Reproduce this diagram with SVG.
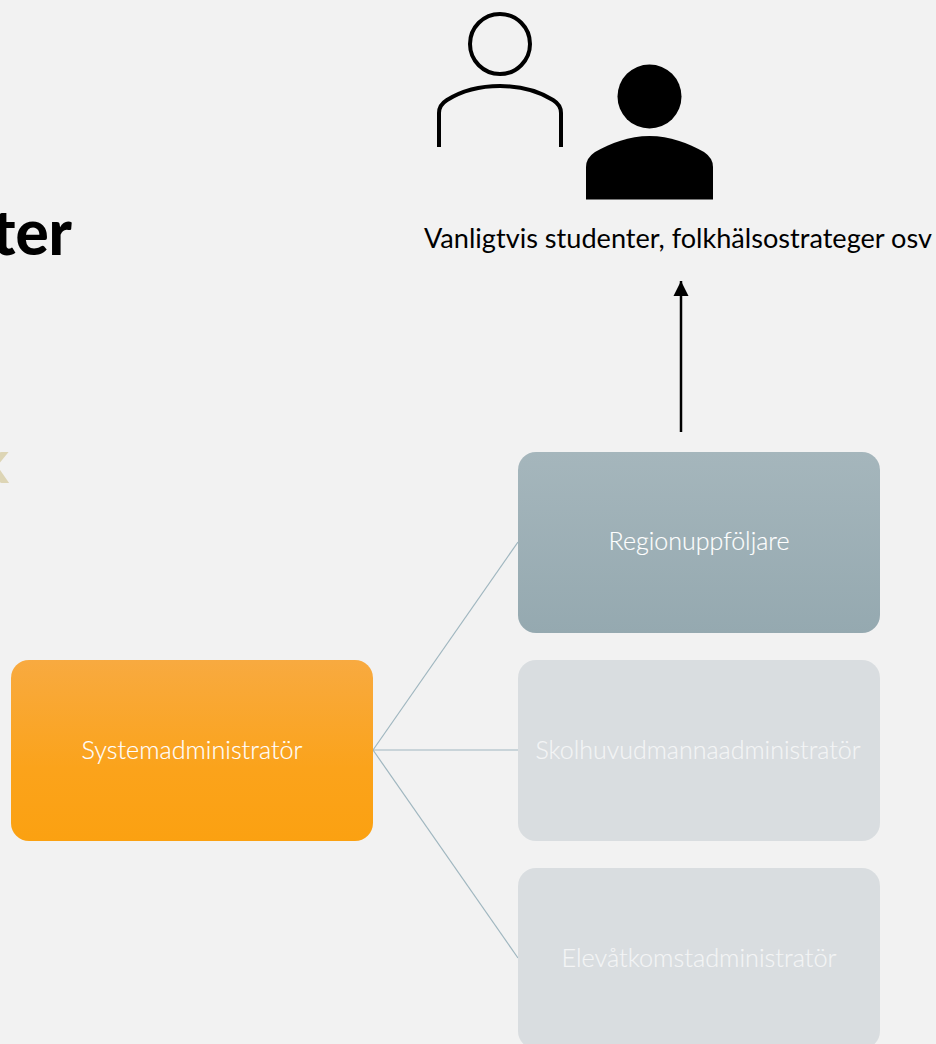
<svg xmlns="http://www.w3.org/2000/svg" width="936" height="1044" viewBox="0 0 936 1044">
<style>
.l{font-family:"Lato","Noto Sans",sans-serif;font-size:25px;font-weight:300;text-anchor:middle;fill:#fff;stroke:#fff;stroke-width:0.15}
.m{fill:#f4f5f6;stroke:#f4f5f6}
.c{stroke:#9fb6bf;stroke-width:1.2;fill:none}
</style>
<defs>
<linearGradient id="o" x1="0" y1="0" x2="0" y2="1"><stop offset="0" stop-color="#f8aa40"/><stop offset="0.6" stop-color="#fba31b"/><stop offset="1" stop-color="#fba111"/></linearGradient>
<linearGradient id="b" x1="0" y1="0" x2="0" y2="1"><stop offset="0" stop-color="#a5b6bc"/><stop offset="1" stop-color="#95a9b0"/></linearGradient>
<marker id="a" markerUnits="userSpaceOnUse" markerWidth="15" markerHeight="16" refX="15" refY="8" orient="auto"><path d="M0 0.500L15 8L0 15.500Z" fill="#000"/></marker>
</defs>
<rect width="936" height="1044" fill="#f2f2f2"/>
<g id="heading"><text x="72" y="255" font-family="Lato,sans-serif" font-weight="900" font-size="62" text-anchor="end" fill="#000">ter</text></g>
<g id="fragment"><text x="9" y="483" font-family="Lato,sans-serif" font-weight="700" font-size="60" text-anchor="end" fill="#ddd5b5">k</text></g>
<g id="connectors">
<path class="c" d="M373 750L518 542"/>
<path class="c" d="M373 750H518"/>
<path class="c" d="M373 750L518 958"/>
<path d="M681 432V281" stroke="#000" stroke-width="2.500" fill="none" marker-end="url(#a)"/>
</g>
<g id="user-outline" fill="none" stroke="#000" stroke-width="4">
<circle cx="500" cy="44" r="30"/>
<path d="M439 147V113Q439 105 447 100C463 90 480 86 500 86C520 86 537 90 553 100Q561 105 561 113V147"/>
</g>
<g id="user-solid">
<circle cx="649.500" cy="96.500" r="32"/>
<path d="M586 199.500V167Q586 158 595 152C611 143 629 136 649.500 136C670 136 688 143 704 152Q713 158 713 167V199.500Z"/>
</g>
<g id="caption"><text x="678" y="248" font-family="Lato,sans-serif" font-size="27" text-anchor="middle" fill="#000" textLength="508" lengthAdjust="spacingAndGlyphs">Vanligtvis studenter, folkhälsostrateger osv</text></g>
<g id="systemadministrator"><rect x="11" y="660" width="362" height="181" rx="18" fill="url(#o)"/><text class="l" x="192" y="759" textLength="221" lengthAdjust="spacingAndGlyphs">Systemadministratör</text></g>
<g id="regionuppfoljare"><rect x="518" y="452" width="362" height="181" rx="18" fill="url(#b)"/><text class="l" x="699" y="550" textLength="181" lengthAdjust="spacingAndGlyphs">Regionuppföljare</text></g>
<g id="skolhuvudmannaadministrator"><rect x="518" y="660" width="362" height="181" rx="18" fill="#d9dde0"/><text class="l m" x="698" y="759" textLength="325" lengthAdjust="spacingAndGlyphs">Skolhuvudmannaadministratör</text></g>
<g id="elevatkomstadministrator"><rect x="518" y="868" width="362" height="181" rx="18" fill="#d9dde0"/><text class="l m" x="699" y="967" textLength="275" lengthAdjust="spacingAndGlyphs">Elevåtkomstadministratör</text></g>
</svg>
